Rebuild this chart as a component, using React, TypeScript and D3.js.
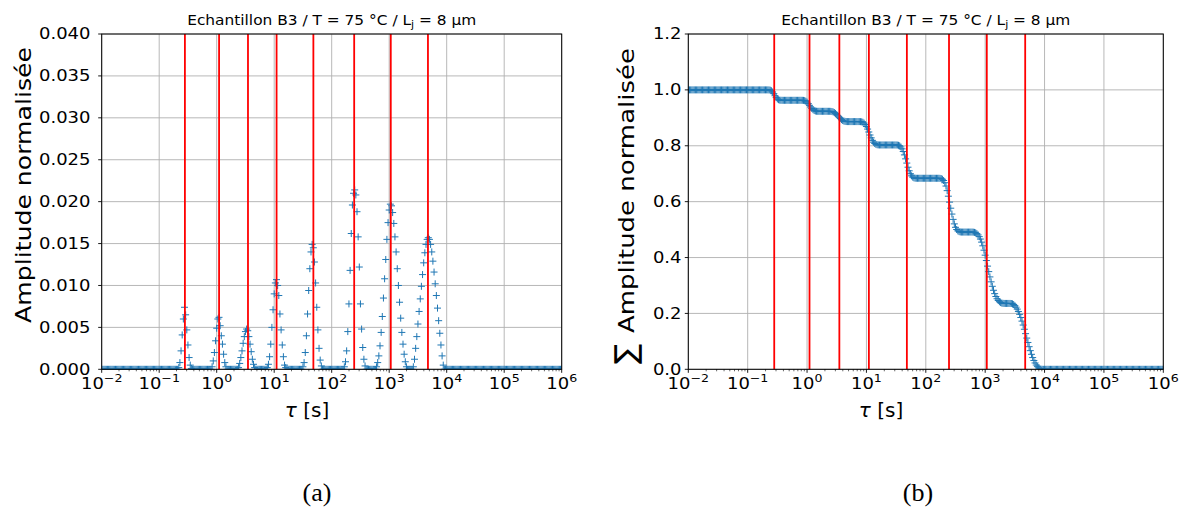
import React from "react";
import * as d3 from "d3";

// τ grid: log-spaced sample points (10^-2 … 10^6)
const TAU_START_EXP = -2;
const POINTS_PER_DECADE = 50;
const N_POINTS = 401;

// Normalised amplitude peaks (start = index on the τ grid)
const peak1 = { start: 67, values: [0.0002, 0.0008, 0.0022, 0.0041, 0.006, 0.0074, 0.0065, 0.0047, 0.0029, 0.0014, 0.0005, 0.0001] };
const peak2 = { start: 96, values: [0.0003, 0.001, 0.002, 0.0034, 0.0049, 0.006, 0.0062, 0.0052, 0.004, 0.003, 0.0018, 0.0008, 0.0003] };
const peak3 = { start: 119, values: [0.0002, 0.0007, 0.0014, 0.0022, 0.0031, 0.0039, 0.0045, 0.0048, 0.0046, 0.0039, 0.003, 0.0021, 0.0012, 0.0006, 0.0002] };
const peak4 = { start: 144, values: [0.0002, 0.0006, 0.0015, 0.003, 0.005, 0.0071, 0.009, 0.0103, 0.0107, 0.01, 0.0088, 0.0066, 0.0047, 0.0029, 0.0015, 0.0005, 0.0002] };
const peak5 = { start: 175, values: [0.0003, 0.0008, 0.002, 0.004, 0.0066, 0.0094, 0.012, 0.014, 0.0149, 0.0145, 0.0128, 0.0103, 0.0074, 0.0047, 0.0025, 0.0011, 0.0004] };
const peak6 = { start: 211, values: [0.0003, 0.0009, 0.0022, 0.0045, 0.0078, 0.0118, 0.0162, 0.0196, 0.021, 0.0214, 0.0208, 0.0188, 0.0158, 0.0122, 0.0078, 0.0048, 0.0026, 0.0012, 0.0004] };
const peak7 = { start: 239, values: [0.0003, 0.0008, 0.0016, 0.0028, 0.0044, 0.0063, 0.0085, 0.0108, 0.0131, 0.0155, 0.0175, 0.019, 0.0197, 0.0195, 0.0187, 0.0174, 0.0158, 0.014, 0.012, 0.01, 0.008, 0.0061, 0.0044, 0.003, 0.0018, 0.0009, 0.0003] };
const peak8 = { start: 271, values: [0.0003, 0.0012, 0.0025, 0.0039, 0.0054, 0.0069, 0.0084, 0.0099, 0.0113, 0.0127, 0.0139, 0.0149, 0.0155, 0.0157, 0.0155, 0.0149, 0.014, 0.0129, 0.0116, 0.0102, 0.0088, 0.0073, 0.0058, 0.0043, 0.0029, 0.0016, 0.0005] };
const peaks = [peak1, peak2, peak3, peak4, peak5, peak6, peak7, peak8];

// red vertical lines (τ in s)
const boundaries = [0.28, 1.1, 3.5, 11, 48, 246, 1065, 4720];

const xTickExps = [-2, -1, 0, 1, 2, 3, 4, 5, 6];
const leftYTicks = [0, 0.005, 0.01, 0.015, 0.02, 0.025, 0.03, 0.035, 0.04];
const rightYTicks = [0, 0.2, 0.4, 0.6, 0.8, 1.0, 1.2];

const FONT = "DejaVu Sans";
const BLUE = "#1f77b4";

function supExp(e: number) {
  return e < 0 ? "\u2212" + Math.abs(e) : String(e);
}

function Panel(props: {
  id: string;
  x0: number;
  x1: number;
  y0: number;
  y1: number;
  yDomain: [number, number];
  yTicks: number[];
  yFmt: (v: number) => string;
  tau: number[];
  values: number[];
  labelRight: number;
  xLabelX: number;
  children?: React.ReactNode;
}) {
  const { id, x0, x1, y0, y1, yDomain, yTicks, yFmt, tau, values, labelRight, xLabelX } = props;
  const xs = d3.scaleLog().domain([1e-2, 1e6]).range([x0, x1]);
  const ys = d3.scaleLinear().domain(yDomain).range([y1, y0]);
  const minor: number[] = [];
  for (let k = -2; k < 6; k++) for (let m = 2; m <= 9; m++) minor.push(m * Math.pow(10, k));
  const h = 3.5;
  const markerPath = tau
    .map((t, i) => {
      const cx = xs(t);
      const cy = ys(values[i]);
      return `M${(cx - h).toFixed(2)},${cy.toFixed(2)}h${2 * h}M${cx.toFixed(2)},${(cy - h).toFixed(2)}v${2 * h}`;
    })
    .join("");
  return (
    <g>
      <defs>
        <clipPath id={id}>
          <rect x={x0} y={y0} width={x1 - x0} height={y1 - y0} />
        </clipPath>
      </defs>
      <rect x={x0} y={y0} width={x1 - x0} height={y1 - y0} fill="#fff" />
      {xTickExps.map((e) => (
        <line key={"gx" + e} x1={xs(Math.pow(10, e))} x2={xs(Math.pow(10, e))} y1={y0} y2={y1} stroke="#b0b0b0" strokeWidth={0.9} />
      ))}
      {yTicks.map((v) => (
        <line key={"gy" + v} x1={x0} x2={x1} y1={ys(v)} y2={ys(v)} stroke="#b0b0b0" strokeWidth={0.9} />
      ))}
      <path d={markerPath} stroke={BLUE} strokeWidth={1} fill="none" clipPath={`url(#${id})`} />
      {boundaries.map((b) => (
        <line key={"r" + b} x1={xs(b)} x2={xs(b)} y1={y0} y2={y1} stroke="#ff0000" strokeWidth={1.8} />
      ))}
      <rect x={x0} y={y0} width={x1 - x0} height={y1 - y0} fill="none" stroke="#000" strokeWidth={1} />
      {minor.map((v, i) => (
        <line key={"mn" + i} x1={xs(v)} x2={xs(v)} y1={y1} y2={y1 + 2} stroke="#000" strokeWidth={0.6} />
      ))}
      {xTickExps.map((e) => {
        const x = xs(Math.pow(10, e));
        return (
          <g key={"xt" + e}>
            <line x1={x} x2={x} y1={y1} y2={y1 + 3.5} stroke="#000" strokeWidth={0.9} />
            <text
              transform={`translate(${x},389) scale(1.2,1)`}
              textAnchor="middle"
              fontFamily={FONT}
              fontSize={15}
              fill="#000"
            >
              <tspan>10</tspan>
              <tspan dy={-7} fontSize={10.5}>{supExp(e)}</tspan>
            </text>
          </g>
        );
      })}
      {yTicks.map((v) => {
        const y = ys(v);
        return (
          <g key={"yt" + v}>
            <line x1={x0 - 3.5} x2={x0} y1={y} y2={y} stroke="#000" strokeWidth={0.9} />
            <text
              transform={`translate(${labelRight},${y}) scale(1.2,1)`}
              textAnchor="end"
              dy="0.36em"
              fontFamily={FONT}
              fontSize={15}
              fill="#000"
            >
              {yFmt(v)}
            </text>
          </g>
        );
      })}
      <text
        transform={`translate(${(x0 + x1) / 2},25) scale(1.1,1)`}
        textAnchor="middle"
        fontFamily={FONT}
        fontSize={14}
        fill="#000"
      >
        <tspan>Echantillon B3 / T = 75 °C / L</tspan>
        <tspan dy={3} fontSize={10}>j</tspan>
        <tspan dy={-3}> = 8 µm</tspan>
      </text>
      <text x={xLabelX} y={417} textAnchor="middle" fontFamily={FONT} fontSize={20} fill="#000">
        <tspan fontStyle="italic">τ</tspan>
        <tspan> [s]</tspan>
      </text>
      {props.children}
    </g>
  );
}

export default function App() {
  const tau = d3.range(N_POINTS).map((i) => Math.pow(10, TAU_START_EXP + i / POINTS_PER_DECADE));
  const amp: number[] = new Array(N_POINTS).fill(0);
  peaks.forEach((p) => p.values.forEach((v, k) => { amp[p.start + k] = v; }));
  const total = d3.sum(amp);
  const cumulative = amp.map((_, i) => d3.sum(amp.slice(i)) / total);

  return (
    <svg
      width={1180}
      height={522}
      viewBox="0 0 1180 522"
      style={{ position: "absolute", left: 0, top: 0, background: "#fff" }}
    >
      <rect x={0} y={0} width={1180} height={522} fill="#fff" />
      <Panel
        id="clipA"
        x0={101.7}
        x1={561.7}
        y0={34}
        y1={369.3}
        yDomain={[0, 0.04]}
        yTicks={leftYTicks}
        yFmt={(v) => v.toFixed(3)}
        tau={tau}
        values={amp}
        labelRight={90.5}
        xLabelX={307}
      >
        <text
          transform="translate(31,323) rotate(-90)"
          textAnchor="start"
          fontFamily={FONT}
          fontSize={21}
          textLength={276}
          lengthAdjust="spacingAndGlyphs"
          fill="#000"
        >
          Amplitude normalisée
        </text>
      </Panel>
      <Panel
        id="clipB"
        x0={688.3}
        x1={1163.3}
        y0={34}
        y1={369.3}
        yDomain={[0, 1.2]}
        yTicks={rightYTicks}
        yFmt={(v) => v.toFixed(1)}
        tau={tau}
        values={cumulative}
        labelRight={681.5}
        xLabelX={881}
      >
        <text transform="translate(636,364) rotate(-90)" textAnchor="start" fontFamily={FONT} fontSize={30} fill="#000">
          ∑
        </text>
        <text
          transform="translate(634,333) rotate(-90)"
          textAnchor="start"
          fontFamily={FONT}
          fontSize={21}
          textLength={285}
          lengthAdjust="spacingAndGlyphs"
          fill="#000"
        >
          Amplitude normalisée
        </text>
      </Panel>
      <text x={317} y={501} textAnchor="middle" fontFamily="Liberation Serif" fontSize={26} fill="#000">
        (a)
      </text>
      <text x={918} y={501} textAnchor="middle" fontFamily="Liberation Serif" fontSize={26} fill="#000">
        (b)
      </text>
    </svg>
  );
}
